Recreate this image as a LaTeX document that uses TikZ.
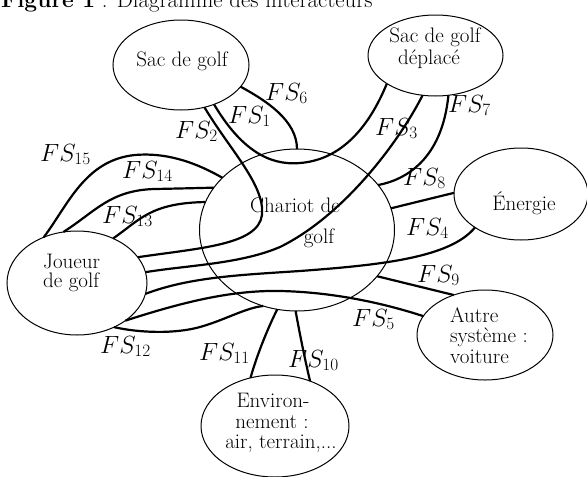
\documentclass[tikz,border=0pt]{standalone}
\usetikzlibrary{shapes.geometric}
\tikzset{
  ell/.style={draw, line width=1pt, ellipse, inner sep=0pt, outer sep=0pt},
  txt/.style={inner sep=0pt, font=\fontsize{21}{25}\selectfont},
  fs/.style={inner sep=0pt, anchor=base west, font=\fontsize{25}{30}\selectfont},
  link/.style={line width=2.2pt},
}
\begin{document}
\begin{tikzpicture}[x=1pt, y=-1pt]
\fill[white] (0,0) rectangle (587,477);
\useasboundingbox (0,0) rectangle (587,477);

% title (top part cut by the page edge, as in the reference)
\node[txt, anchor=base west, font=\fontsize{22.8}{27}\selectfont] (title) at (1,7) {\textbf{Figure 1} : Diagramme des interacteurs};

% ellipses
\node[ell, minimum width=136pt, minimum height=90pt] (sac) at (181,65) {};
\node[ell, minimum width=135pt, minimum height=81pt] (dep) at (435.5,55.5) {};
\node[ell, minimum width=195pt, minimum height=162pt] (char) at (297,230) {};
\node[ell, minimum width=134pt, minimum height=92pt] (ener) at (521,194) {};
\node[ell, minimum width=140pt, minimum height=104pt] (joue) at (77,283) {};
\node[ell, minimum width=136pt, minimum height=90pt] (autre) at (485,335) {};
\node[ell, minimum width=148pt, minimum height=102pt] (env) at (275,426) {};

% ellipse texts
\node[txt, anchor=base] (sact) at (182,66) {Sac de golf};
\node[txt, anchor=base] (dept1) at (435,42) {Sac de golf};
\node[txt, anchor=base] (dept2) at (429,64) {déplacé};
\node[txt, anchor=base] (chart1) at (295,212) {Chariot de};
\node[txt, anchor=base] (chart2) at (319,243) {golf};
\node[txt, anchor=base] (enert) at (524,210) {Énergie};
\node[txt, anchor=base west] (jouet1) at (43,268) {Joueur};
\node[txt, anchor=base west] (jouet2) at (43,287) {de golf};
\node[txt, anchor=base west] (autret1) at (450,322) {Autre};
\node[txt, anchor=base west] (autret2) at (450,342) {système :};
\node[txt, anchor=base west] (autret3) at (450,363) {voiture};
\node[txt, anchor=base] (envt1) at (273,407) {Environ-};
\node[txt, anchor=base] (envt2) at (272,428) {nement :};
\node[txt, anchor=base] (envt3) at (281,448) {air, terrain,...};

% connectors
\draw[link] (sac.-20.7) .. controls (265,100) and (297,120) .. (char.90);
\draw[link] (sac.-50) .. controls (240,148) and (268,166) .. (300,163)
  .. controls (338,160) and (367,132) .. (dep.-150.4);
\draw[link] (sac.-61.2) .. controls (230,150) and (265,185) .. (262,215)
  .. controls (258,245) and (200,248) .. (joue.23.2);
\draw[link] (dep.-108.4) .. controls (400,140) and (345,215) .. (280,247)
  .. controls (240,264) and (190,265) .. (joue.9.2);
\draw[link] (dep.-72.4) .. controls (442,160) and (405,180) .. (char.29.1);
\draw[link] (char.13) -- (ener.179);
\draw[link] (joue.-9.7) .. controls (190,277) and (240,275) .. (300,271)
  .. controls (380,265) and (450,258) .. (ener.-144.7);
\draw[link] (char.-30.4) -- (autre.128.7);
\draw[link] (joue.-38.8) .. controls (180,303) and (230,290) .. (280,291)
  .. controls (330,292) and (380,302) .. (autre.163.6);
\draw[link] (joue.-50.7) .. controls (140,333) and (175,334) .. (200,327)
  .. controls (225,320) and (245,308) .. (char.-114.7);
\draw[link] (char.-104) .. controls (267,330) and (257,355) .. (env.117.5);
\draw[link] (char.-91) .. controls (300,335) and (305,360) .. (env.52.7);
\draw[link] (joue.126.5) .. controls (68,205) and (85,160) .. (135,155)
  .. controls (170,152) and (200,165) .. (char.145.1);
\draw[link] (joue.105.4) .. controls (95,212) and (110,190) .. (155,189)
  .. controls (180,188.5) and (200,188) .. (char.153.4);
\draw[link] (joue.51.3) .. controls (140,220) and (150,203) .. (char.163.6);

% labels
\node[fs] (l1) at (228,123) {$FS_1$};
\node[fs] (l2) at (175,138) {$FS_2$};
\node[fs] (l3) at (375,135) {$FS_3$};
\node[fs] (l4) at (406,235) {$FS_4$};
\node[fs] (l5) at (352,326) {$FS_5$};
\node[fs] (l6) at (265,100) {$FS_6$};
\node[fs] (l7) at (448,112) {$FS_7$};
\node[fs] (l8) at (403,185) {$FS_8$};
\node[fs] (l9) at (417,282) {$FS_9$};
\node[fs] (l10) at (288,367) {$FS_{10}$};
\node[fs] (l11) at (199,360) {$FS_{11}$};
\node[fs] (l12) at (100,353) {$FS_{12}$};
\node[fs] (l13) at (102,223) {$FS_{13}$};
\node[fs] (l14) at (122,178) {$FS_{14}$};
\node[fs] (l15) at (40,161) {$FS_{15}$};
\end{tikzpicture}
\end{document}
